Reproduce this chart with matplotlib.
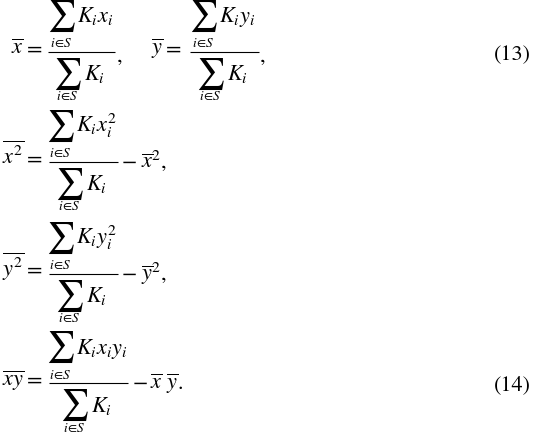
import matplotlib
matplotlib.use("Agg")
import matplotlib.pyplot as plt

plt.rcParams["mathtext.fontset"] = "stix"
plt.rcParams["font.family"] = ["STIXGeneral", "DejaVu Serif"]

# ---- content ----
lhs_labels = [r"$\overline{x}$", r"$\overline{x^2}$", r"$\overline{y^2}$", r"$\overline{xy}$"]
second_lhs = r"$\overline{y}$"
numerators = [r"$K_i x_i$", r"$K_i y_i$", r"$K_i x_i^2$", r"$K_i y_i^2$", r"$K_i x_i y_i$"]
denominator = r"$K_i$"
sum_sign = r"$\sum$"
sum_limit = r"$i\!\in\! S$"
eq_numbers = ["(13)", "(14)"]
trail_terms = [
    [("\u2212", 122), (r"$\overline{x}^2$", 141), (",", 160.5)],
    [("\u2212", 122), (r"$\overline{y}^2$", 141), (",", 160.5)],
    [("\u2212", 133), (r"$\overline{x}$", 150), (r"$\overline{y}$", 165.5), (".", 177.5)],
]

# ---- layout (pixels) ----
W, H = 535, 435
FS, FS_SUM, FS_LIM = 16, 22.5, 9.5
ybars = [52.7, 162.7, 274.5, 384.3]
# (row, bar x0, bar x1, numerator sum x, numerator index)
fracs = [(0, 48, 115, 50, 0), (0, 190, 259, 192, 1),
         (1, 49, 118, 49, 2), (2, 49, 118, 49, 3), (3, 49, 128, 49, 4)]

fig = plt.figure(figsize=(W / 100, H / 100), dpi=100)
ax = fig.add_axes([0, 0, 1, 1])
ax.set_xlim(0, W)
ax.set_ylim(H, 0)
ax.axis("off")


def txt(x, y, s, fs=FS, ha="left", va="baseline"):
    ax.text(x, y, s, fontsize=fs, ha=ha, va=va, color="black")


def sum_block(xl, base, lim_off):
    txt(xl + 11.5, base - 6, sum_sign, fs=FS_SUM, ha="center", va="center")
    txt(xl + 11.5, base + lim_off, sum_limit, fs=FS_LIM, ha="center")


for row, x0, x1, nsx, ni in fracs:
    yb = ybars[row]
    nb, db = yb - 30.5, yb + 27.5
    sum_block(nsx, nb, 25)
    txt(nsx + 27, nb, numerators[ni])
    ax.plot([x0, x1], [yb, yb], color="black", lw=0.8, solid_capstyle="butt")
    dsx = (x0 + x1) / 2 - 25.5
    sum_block(dsx, db, 20)
    txt(dsx + 28, db, denominator)

# left-hand sides
for row, lab in enumerate(lhs_labels):
    yb = ybars[row]
    xl = 11 if row == 0 else 2
    txt(xl, yb + 1.5, lab)
    txt(27, yb + 1.5, "=")
txt(151, ybars[0] + 1.5, second_lhs)
txt(166, ybars[0] + 1.5, "=")

# commas after row-1 fractions
txt(117, ybars[0] + 9, ",")
txt(260, ybars[0] + 9, ",")

# trailing terms
for row, terms in zip([1, 2, 3], trail_terms):
    for s, x in terms:
        txt(x, ybars[row] + 5, s)

# equation numbers
txt(531, ybars[0] + 7, eq_numbers[0], ha="right")
txt(531, ybars[3] + 6, eq_numbers[1], ha="right")

fig.savefig("out.png", dpi=100)
